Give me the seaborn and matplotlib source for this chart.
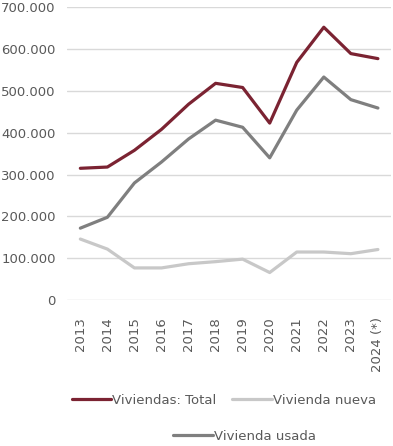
import matplotlib.pyplot as plt
import matplotlib.ticker as mticker
import pandas as pd
import seaborn as sns

# datos
years = ["2013", "2014", "2015", "2016", "2017", "2018", "2019", "2020",
         "2021", "2022", "2023", "2024 (*)"]
total = [315000, 318000, 358000, 408000, 468000, 518000, 508000, 423000,
         568000, 652000, 589000, 577000]
nueva = [146000, 122000, 77000, 77000, 87000, 92000, 98000, 66000,
         115000, 115000, 111000, 121000]
usada = [172000, 198000, 280000, 330000, 385000, 430000, 413000, 340000,
         454000, 533000, 479000, 459000]

series = ["Viviendas: Total", "Vivienda nueva", "Vivienda usada"]
colors = {"Viviendas: Total": "#7B2332", "Vivienda nueva": "#C8C8C8",
          "Vivienda usada": "#7F7F7F"}

df = pd.DataFrame({
    "year": years * 3,
    "valor": total + nueva + usada,
    "serie": [series[0]] * len(years) + [series[1]] * len(years) + [series[2]] * len(years),
})
df["pos"] = list(range(len(years))) * 3

sns.set_theme(style="white")
plt.rcParams["font.family"] = ["DejaVu Sans"]

fig = plt.figure(figsize=(3.93, 4.46), dpi=100)
ax = fig.add_axes([0.170, 0.327, 0.826, 0.657])

sns.lineplot(data=df, x="pos", y="valor", hue="serie", palette=colors,
             linewidth=2.3, ax=ax, legend=False, zorder=3)

ax.set_xlim(-0.5, len(years) - 0.5)
ax.set_ylim(0, 700000)
ax.set_yticks(range(0, 700001, 100000))
ax.yaxis.set_major_formatter(
    mticker.FuncFormatter(lambda v, p: f"{v:,.0f}".replace(",", ".")))
ax.set_xticks(range(len(years)))
ax.set_xticklabels(years, rotation=90)
ax.tick_params(axis="both", labelsize=9.5, labelcolor="#595959", length=0)
ax.tick_params(axis="y", pad=8)
ax.tick_params(axis="x", pad=12)
ax.grid(axis="y", color="#D9D9D9", linewidth=1)
ax.set_axisbelow(True)
for s in ax.spines.values():
    s.set_visible(False)
ax.set_xlabel("")
ax.set_ylabel("")

h = {s: plt.Line2D([], [], color=colors[s], linewidth=2.3) for s in series}
leg1 = fig.legend([h[series[0]], h[series[1]]], series[:2], ncol=2,
                  loc="center", bbox_to_anchor=(0.57, 0.103), frameon=False,
                  fontsize=9.5, handlelength=3.0, handletextpad=0.1,
                  columnspacing=1.2, labelcolor="#595959")
leg2 = fig.legend([h[series[2]]], series[2:], loc="center",
                  bbox_to_anchor=(0.623, 0.022), frameon=False, fontsize=9.5,
                  handlelength=3.0, handletextpad=0.1, labelcolor="#595959")

fig.savefig("out.png", dpi=100)
